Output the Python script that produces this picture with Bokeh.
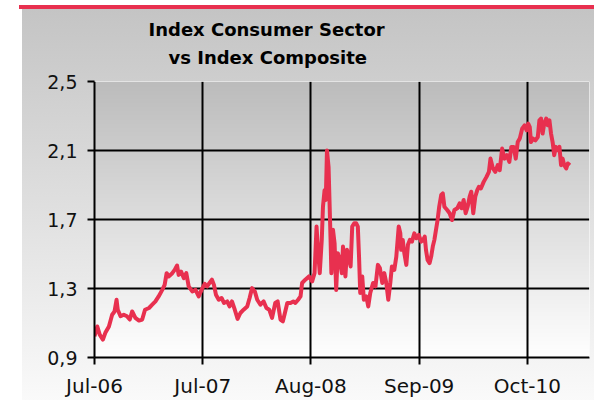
import numpy as np
from bokeh.plotting import figure
from bokeh.models import Range1d, FixedTicker, Span, CustomJSTickFormatter, Title
from bokeh.embed import file_html
from bokeh.resources import INLINE

# ---- data (trading-day index, relative index value) ----
days = [0, 7, 13, 21, 27, 36, 44, 50, 55, 58, 65, 73, 81, 88, 94, 102, 111, 119, 126, 136,
        144, 152, 160, 169, 175, 180, 185, 194, 200, 206, 210, 216, 223, 229, 235, 244, 252, 260,
        267, 275, 281, 287, 293, 298, 303, 310, 317, 323, 331, 337, 343, 350, 357, 364, 372, 381,
        387, 393, 400, 406, 414, 422, 429, 436, 443, 451, 457, 464, 470, 475, 481, 489, 496, 501,
        508, 514,
        518, 526, 535, 543, 549, 554, 557, 562, 567, 570, 574, 577, 580, 584, 589, 591, 595, 599,
        603, 607, 612, 617, 620, 626, 630, 634, 639, 643, 648, 653, 657, 660, 663, 668, 672, 678,
        683, 688, 695, 701, 707, 712, 718, 723, 728, 733, 738, 742, 748, 753, 759, 763,
        765, 769, 773, 778, 782, 787, 792, 798, 803, 809, 815, 820, 824, 827, 831, 836, 840, 844,
        848, 852, 856, 860, 865, 869, 873, 880, 886, 892, 898, 905, 911, 916, 921, 926, 931, 936,
        940, 945, 950, 955, 959, 964, 971, 978, 984,
        988, 994, 1000, 1006, 1011, 1017, 1023, 1029, 1035, 1040, 1046, 1051, 1056, 1061, 1067,
        1073, 1078, 1082, 1086, 1089, 1094, 1100, 1106, 1110, 1114, 1118, 1122, 1127, 1131, 1135,
        1139, 1143, 1147, 1151, 1156, 1160, 1164, 1168, 1172, 1177, 1181, 1186]
values = [1.023, 1.08, 1.033, 1.004, 1.043, 1.08, 1.148, 1.167, 1.235, 1.177, 1.139, 1.148, 1.139,
          1.12, 1.167, 1.13, 1.114, 1.12, 1.177, 1.187, 1.206, 1.225, 1.254, 1.292, 1.321, 1.389,
          1.37, 1.389, 1.408, 1.433, 1.379, 1.398, 1.36, 1.389, 1.312, 1.283, 1.292, 1.254,
          1.292, 1.327, 1.312, 1.332, 1.351, 1.321, 1.264, 1.235, 1.245, 1.216, 1.225, 1.196, 1.225,
          1.177, 1.124, 1.158, 1.177, 1.196, 1.245, 1.302, 1.283, 1.235, 1.206, 1.225, 1.187, 1.177,
          1.13, 1.216, 1.225, 1.12, 1.11, 1.158, 1.216, 1.216, 1.225, 1.216, 1.235, 1.254,
          1.332, 1.351, 1.37, 1.341, 1.389, 1.659, 1.543, 1.389, 1.582, 1.774, 1.87, 1.813, 2.1,
          2.005, 1.582, 1.389, 1.64, 1.563, 1.292, 1.505, 1.466, 1.389, 1.543, 1.37, 1.524, 1.485,
          1.428, 1.659, 1.678, 1.678, 1.659, 1.485, 1.274, 1.37, 1.235, 1.254, 1.196, 1.274, 1.332,
          1.312, 1.437, 1.418, 1.332, 1.389, 1.332, 1.235, 1.332, 1.428, 1.408, 1.485, 1.659, 1.62,
          1.524, 1.582, 1.505, 1.437, 1.553, 1.582, 1.572, 1.62, 1.591, 1.611, 1.572, 1.582, 1.601,
          1.524, 1.466, 1.447, 1.485, 1.543, 1.582, 1.64, 1.697, 1.774, 1.842, 1.851, 1.774, 1.755,
          1.736, 1.697, 1.755, 1.765, 1.794, 1.765, 1.813, 1.736, 1.774, 1.832, 1.861, 1.736, 1.832,
          1.87, 1.89, 1.88, 1.918, 1.947, 1.976,
          2.053, 1.996, 1.976, 2.015, 1.986, 2.111, 2.053, 2.073, 2.034, 2.121, 2.121, 2.053, 2.149,
          2.169, 2.227, 2.246, 2.217, 2.256, 2.236, 2.149, 2.169, 2.159, 2.178, 2.275, 2.285, 2.198,
          2.256, 2.285, 2.246, 2.275, 2.198, 2.149, 2.073, 2.121, 2.102, 2.121, 2.015, 2.053, 2.015,
          1.996, 2.025, 2.015]

x_tick_positions = [0, 270, 540, 810, 1080]
x_tick_labels = ["Jul-06", "Jul-07", "Aug-08", "Sep-09", "Oct-10"]
y_ticks = [0.9, 1.3, 1.7, 2.1, 2.5]
title_lines = ["Index Consumer Sector", "vs Index Composite"]

X_END = 1235
Y_MIN, Y_MAX = 0.9, 2.5

p = figure(width=594, height=400, output_backend="svg", toolbar_location=None,
           x_range=Range1d(0, X_END), y_range=Range1d(Y_MIN, Y_MAX),
           min_border_left=94, min_border_right=5, min_border_top=81, min_border_bottom=42)
p.title.visible = False
p.border_fill_alpha = 0
p.background_fill_alpha = 0
p.outline_line_color = None
p.styles = {"background": "linear-gradient(#e8304f, #e8304f) 19px 5px / 100% 4px no-repeat, "
                          "linear-gradient(#c4c4c4, #fbfbfb) 22px 9px / 100% 100% no-repeat, #ffffff"}

# plot-area gradient
rows = 277
shade = np.linspace(255, 188, rows).astype(np.uint32)  # row 0 = bottom
img = np.empty((rows, 2), dtype=np.uint32)
col = (255 << 24) | (shade << 16) | (shade << 8) | shade
img[:, 0] = col
img[:, 1] = col
p.image_rgba(image=[img], x=0, y=Y_MIN, dw=X_END, dh=Y_MAX - Y_MIN, level="image")

p.line(days, values, line_color="#e8304f", line_width=4, line_join="round")

# axes
for ax in (p.xaxis[0], p.yaxis[0]):
    ax.axis_line_color = "black"
    ax.axis_line_width = 2
    ax.major_tick_line_color = "black"
    ax.major_tick_line_width = 2
    ax.major_tick_in = 0
    ax.major_tick_out = 7
    ax.minor_tick_line_color = None
    ax.major_label_text_color = "#111111"
    ax.major_label_text_font = "DejaVu Sans"

p.xaxis.ticker = FixedTicker(ticks=x_tick_positions)
p.xaxis.major_label_overrides = dict(zip(x_tick_positions, x_tick_labels))
p.xaxis.major_label_text_font_size = "20px"
p.xaxis.major_label_standoff = 9

p.yaxis.ticker = FixedTicker(ticks=y_ticks)
p.yaxis.formatter = CustomJSTickFormatter(code="return tick.toFixed(1).replace('.', ',');")
p.yaxis.major_label_text_font_size = "19px"
p.yaxis.major_label_standoff = 10

p.xgrid.ticker = FixedTicker(ticks=x_tick_positions[1:])
p.ygrid.ticker = FixedTicker(ticks=y_ticks[1:-1])
for g in (p.xgrid[0], p.ygrid[0]):
    g.grid_line_color = "black"
    g.grid_line_width = 2

# white top and right frame edges
p.add_layout(Span(location=Y_MAX, dimension="width", line_color="white", line_width=1))
p.add_layout(Span(location=X_END, dimension="height", line_color="white", line_width=1))

# two-line title
t2 = Title(text=title_lines[1], align="left", offset=74, standoff=28,
           text_font="DejaVu Sans", text_font_style="bold", text_font_size="18px",
           text_color="#000000")
t1 = Title(text=title_lines[0], align="left", offset=54, standoff=-18,
           text_font="DejaVu Sans", text_font_style="bold", text_font_size="18px",
           text_color="#000000")
p.add_layout(t2, "above")
p.add_layout(t1, "above")

open("out.html", "w").write(file_html(p, INLINE))
